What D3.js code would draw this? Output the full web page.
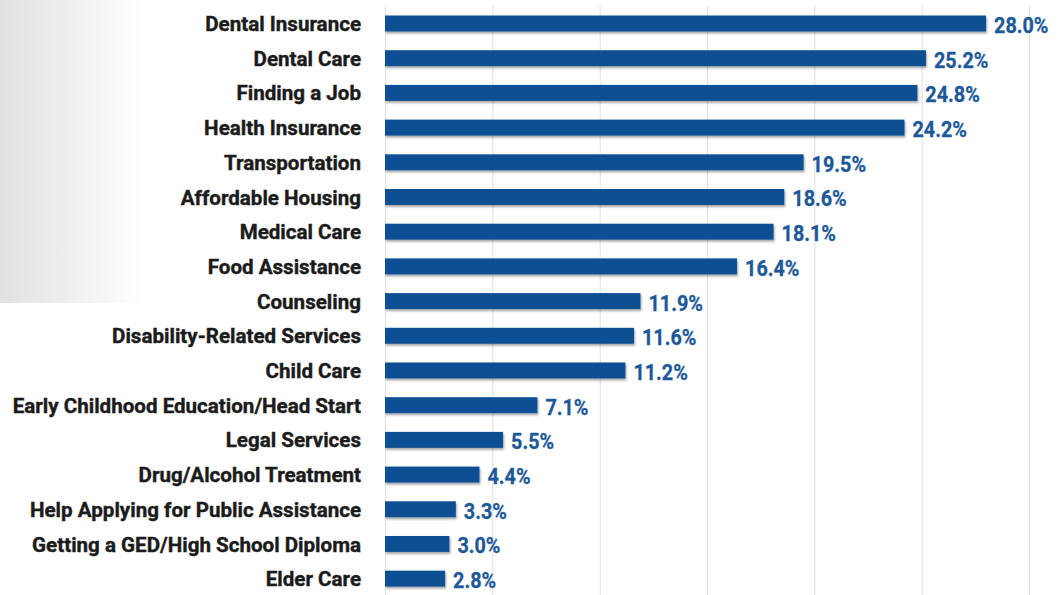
<!DOCTYPE html>
<html>
<head>
<meta charset="utf-8">
<script src="https://cdn.jsdelivr.net/npm/d3@7"></script>
<style>
  html, body { margin: 0; padding: 0; background: #fff; }
  svg { display: block; }
</style>
</head>
<body>
<svg id="chart" width="1063" height="595"></svg>
<script>
// Share of respondents naming each service as a need
const categories = [
  "Dental Insurance", "Dental Care", "Finding a Job", "Health Insurance",
  "Transportation", "Affordable Housing", "Medical Care", "Food Assistance",
  "Counseling", "Disability-Related Services", "Child Care",
  "Early Childhood Education/Head Start", "Legal Services",
  "Drug/Alcohol Treatment", "Help Applying for Public Assistance",
  "Getting a GED/High School Diploma", "Elder Care"
];
const values = [28.0, 25.2, 24.8, 24.2, 19.5, 18.6, 18.1, 16.4, 11.9, 11.6, 11.2, 7.1, 5.5, 4.4, 3.3, 3.0, 2.8];
const gridTicks = [0, 5, 10, 15, 20, 25, 30];

const W = 1063, H = 595;
const svg = d3.select("#chart");
const defs = svg.append("defs");

// Soft grey panel in the upper-left corner
const grad = defs.append("linearGradient").attr("id", "panelFade")
  .attr("x1", "0").attr("x2", "1").attr("y1", "0").attr("y2", "0");
grad.append("stop").attr("offset", "0%").attr("stop-color", "#dfe1e4");
grad.append("stop").attr("offset", "45%").attr("stop-color", "#eceef0");
grad.append("stop").attr("offset", "100%").attr("stop-color", "#ffffff");
svg.append("rect").attr("x", 0).attr("y", 0).attr("width", 142).attr("height", 303)
  .attr("fill", "url(#panelFade)");

// Drop shadow under bars
const shadow = defs.append("filter").attr("id", "barShadow")
  .attr("x", "-5%").attr("y", "-30%").attr("width", "110%").attr("height", "180%");
shadow.append("feDropShadow").attr("dx", 1).attr("dy", 2)
  .attr("stdDeviation", 1.3).attr("flood-color", "#000").attr("flood-opacity", 0.35);

const x = d3.scaleLinear().domain([0, 30]).range([385, 1029]);
const y = d3.scaleBand().domain(categories).range([6.15, 596])
  .paddingInner(0.54).paddingOuter(0.27);

// Vertical gridlines
svg.append("g").selectAll("line").data(gridTicks).join("line")
  .attr("x1", d => x(d) + 0.5).attr("x2", d => x(d) + 0.5)
  .attr("y1", 6).attr("y2", H)
  .attr("stroke", "#dedede").attr("stroke-width", 1);

// Bars
svg.append("g").attr("filter", "url(#barShadow)")
  .selectAll("rect").data(values).join("rect")
  .attr("x", x(0))
  .attr("y", (d, i) => y(categories[i]))
  .attr("width", d => x(d) - x(0))
  .attr("height", y.bandwidth())
  .attr("fill", "#0b4f92");

// Category labels
const catScale = 0.98;
svg.append("g").selectAll("g").data(categories).join("g")
  .attr("transform", d => `translate(361,${y(d) + y.bandwidth() / 2}) scale(${catScale},1)`)
  .append("text")
  .attr("text-anchor", "end")
  .attr("dy", "0.36em")
  .attr("font-family", "Roboto, 'Liberation Sans', sans-serif")
  .attr("font-weight", 700)
  .attr("font-size", 21)
  .attr("fill", "#1b1b1b")
  .attr("stroke", "#1b1b1b")
  .attr("stroke-width", 0.4)
  .text(d => d);

// Value labels
const valScale = 0.9;
svg.append("g").selectAll("g").data(values).join("g")
  .attr("transform", (d, i) => `translate(${x(d) + 8},${y(categories[i]) + y.bandwidth() / 2 + 1.5}) scale(${valScale},1)`)
  .append("text")
  .attr("dy", "0.36em")
  .attr("font-family", "Roboto, 'Liberation Sans', sans-serif")
  .attr("font-weight", 700)
  .attr("font-size", 22)
  .attr("fill", "#1d5898")
  .attr("stroke", "#1d5898")
  .attr("stroke-width", 0.3)
  .text(d => d.toFixed(1) + "%");
</script>
</body>
</html>
